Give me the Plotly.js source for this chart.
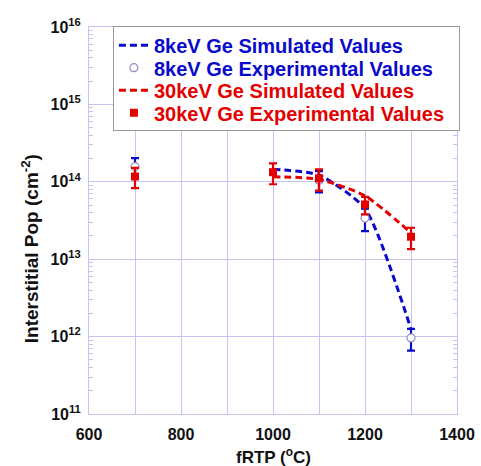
<!DOCTYPE html>
<html><head><meta charset="utf-8">
<script src="https://cdn.plot.ly/plotly-3.0.1.min.js"></script>
<style>html,body{margin:0;padding:0;background:#fff}#chart{width:481px;height:466px}</style>
</head><body><div id="chart"></div>
<script>
// 8 keV Ge simulated
const sim8T = [1000, 1100, 1200, 1300];
const sim8V = [1.45e14, 1.22e14, 4.5e13, 1.25e12];
// 8 keV Ge experimental
const exp8T = [700, 1100, 1200, 1300];
const exp8V = [1.57e14, 1.05e14, 3.4e13, 9.6e11];
const exp8Err = [4.5e13, 3.2e13, 1.1e13, 3.0e11];
// 30 keV Ge simulated
const sim30T = [1000, 1100, 1200, 1300];
const sim30V = [1.16e14, 1.08e14, 6.6e13, 2.2e13];
// 30 keV Ge experimental
const exp30T = [700, 1000, 1100, 1200, 1300];
const exp30V = [1.17e14, 1.33e14, 1.11e14, 5.1e13, 1.95e13];
const exp30Err = [3.4e13, 4.0e13, 3.4e13, 1.3e13, 6.0e12];

const xTickVals = [600, 700, 800, 900, 1000, 1100, 1200, 1300, 1400];
const xTickText = ['600', '', '800', '', '1000', '', '1200', '', '1400'];
const yTickVals = [1e11, 1e12, 1e13, 1e14, 1e15, 1e16];
const yTickText = ['10<sup>11</sup>', '10<sup>12</sup>', '10<sup>13</sup>', '10<sup>14</sup>', '10<sup>15</sup>', '10<sup>16</sup>'];

const BLUE = '#0a0acc';
const RED = '#e30000';
const GRID = '#c4c4f0';
const FONT = 'Liberation Sans, Arial, sans-serif';

const traces = [
  {x: sim8T, y: sim8V, mode: 'lines', name: '8keV Ge Simulated Values',
   line: {color: BLUE, width: 3, dash: '7px,4px', shape: 'spline', smoothing: 0.6}},
  {x: exp8T, y: exp8V, mode: 'markers', name: '8keV Ge Experimental Values',
   marker: {symbol: 'circle', size: 8, color: '#ffffff', line: {color: '#8f8fc8', width: 1.2}},
   error_y: {type: 'data', array: exp8Err, visible: true, color: BLUE, thickness: 2.2, width: 4}},
  {x: sim30T, y: sim30V, mode: 'lines', name: '30keV Ge Simulated Values',
   line: {color: RED, width: 3, dash: '7px,4px', shape: 'spline', smoothing: 0.6}},
  {x: exp30T, y: exp30V, mode: 'markers', name: '30keV Ge Experimental Values',
   marker: {symbol: 'square', size: 8, color: RED},
   error_y: {type: 'data', array: exp30Err, visible: true, color: RED, thickness: 2.2, width: 4}}
];

const layout = {
  width: 481, height: 466,
  margin: {l: 89, r: 24, t: 27, b: 52},
  paper_bgcolor: '#ffffff', plot_bgcolor: '#ffffff',
  font: {family: FONT, size: 16, color: '#111', weight: 'bold'},
  showlegend: true,
  legend: {x: 0.065, y: 1.003, xanchor: 'left', yanchor: 'top',
    bgcolor: '#ffffff', bordercolor: '#999999', borderwidth: 1,
    font: {family: FONT, size: 20, weight: 'bold'}, tracegroupgap: 0,
    itemwidth: 30},
  xaxis: {range: [600, 1400], tickvals: xTickVals, ticktext: xTickText,
    showgrid: true, gridcolor: GRID, gridwidth: 1,
    showline: true, linecolor: GRID, linewidth: 1, mirror: true,
    ticks: '', zeroline: false, ticklabelstandoff: 6,
    tickfont: {family: FONT, size: 16, color: '#111', weight: 'bold'}},
  yaxis: {type: 'log', range: [11, 16], tickvals: yTickVals, ticktext: yTickText,
    showgrid: true, gridcolor: GRID, gridwidth: 1,
    showline: true, linecolor: GRID, linewidth: 1, mirror: 'allticks',
    ticks: 'inside', ticklen: 5, tickcolor: GRID,
    minor: {dtick: 'D1', ticks: 'inside', ticklen: 4, tickcolor: GRID, showgrid: false},
    ticklabelstandoff: 4,
    tickfont: {family: FONT, size: 16, color: '#111', weight: 'bold'}},
  annotations: [
    {text: 'fRTP (<sup>o</sup>C)', xref: 'paper', yref: 'paper', x: 0.5, y: -0.108,
     yanchor: 'middle', showarrow: false, font: {family: FONT, size: 17, color: '#111', weight: 'bold'}},
    {text: 'Interstitial Pop (cm<sup>-2</sup>)', xref: 'paper', yref: 'paper',
     x: -0.16, y: 0.426, xanchor: 'center', yanchor: 'middle', textangle: -90,
     showarrow: false, font: {family: FONT, size: 19, color: '#111', weight: 'bold'}}
  ]
};

Plotly.newPlot('chart', traces, layout, {displayModeBar: false, staticPlot: true}).then(function(){
  // colour legend texts and tighten legend row spacing like the reference
  const cols = [BLUE, BLUE, RED, RED];
  const rowCenters = [45, 67.5, 90, 112.5];
  const legend = document.querySelector('.legend');
  const lrect = legend.getBoundingClientRect();
  document.querySelectorAll('.legend .traces').forEach(function(g, i){
    const t = g.querySelector('text.legendtext');
    if (t) t.style.fill = cols[i];
    const m = /translate\(([-\d.]+),\s*([-\d.]+)\)/.exec(g.getAttribute('transform') || '');
    if (m && t) {
      const tr = t.getBoundingClientRect();
      const cur = (tr.top + tr.bottom) / 2;
      const dy = rowCenters[i] + 1 - cur;
      g.setAttribute('transform', 'translate(' + m[1] + ',' + (parseFloat(m[2]) + dy) + ')');
    }
  });
  const bg = document.querySelector('.legend rect.bg');
  if (bg) {
    const top = lrect.top;
    bg.setAttribute('height', 130 - top);
    bg.setAttribute('width', 459 - lrect.left);
  }
});
</script></body></html>
